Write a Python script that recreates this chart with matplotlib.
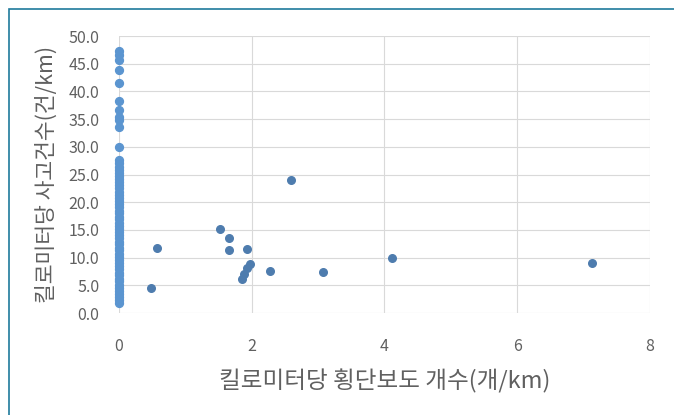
import matplotlib
matplotlib.use("Agg")
import matplotlib.pyplot as plt
from matplotlib.patches import Rectangle

plt.rcParams['font.family'] = ['Noto Sans CJK KR', 'DejaVu Sans']

# points at zero crosswalks per km
zero_y = [47.3, 46.6, 45.7, 43.9, 41.5, 38.2, 36.6, 35.4, 34.8, 33.6, 30.0,
          27.6, 27.0, 26.4, 25.9, 25.3, 24.8, 24.2, 23.6, 23.1, 22.5, 21.9,
          21.3, 20.8, 20.2, 19.7, 19.1, 18.5, 18.0, 17.4, 16.9, 16.3, 15.7,
          15.2, 14.6, 14.1, 13.5, 12.9, 12.4, 11.8, 11.3, 10.7, 10.1, 9.6,
          9.0, 8.5, 7.9, 7.3, 6.8, 6.2, 5.7, 5.1, 4.5, 4.0, 3.4, 2.9, 2.3, 1.8]

other_x = [0.48, 0.57, 1.52, 1.66, 1.66, 1.93, 1.97, 1.93, 1.88, 1.85,
           2.27, 2.59, 3.07, 4.11, 7.12]
other_y = [4.6, 11.7, 15.2, 13.5, 11.3, 11.6, 8.8, 8.1, 7.1, 6.1,
           7.5, 24.0, 7.4, 10.0, 9.1]

xticks = [0, 2, 4, 6, 8]
yticks = [0, 5, 10, 15, 20, 25, 30, 35, 40, 45, 50]

fig = plt.figure(figsize=(6.74, 4.15), dpi=100)
fig.patches.append(Rectangle((9 / 674, -0.1), 1.2, 1 - 9 / 415 + 0.1,
                             transform=fig.transFigure, fill=False,
                             edgecolor='#1F7A9C', linewidth=1.2))

ax = fig.add_axes([119 / 674, 1 - 313 / 415, 531 / 674, 277 / 415])
ax.scatter([0] * len(zero_y), zero_y, s=32, color='#5B95D0', zorder=3, clip_on=False)
ax.scatter(other_x, other_y, s=30, color='#4E7CAE', zorder=3, clip_on=False)

ax.set_xlim(0, 8)
ax.set_ylim(0, 50)
ax.set_xticks(xticks)
ax.set_yticks(yticks)
ax.set_yticklabels([f"{v:.1f}" for v in yticks])
ax.grid(True, color='#D9D9D9', linewidth=0.8)
ax.set_axisbelow(True)
for s in ax.spines.values():
    s.set_visible(False)
ax.tick_params(length=0, labelsize=11.5, colors='#606060')
ax.tick_params(axis='y', pad=14)
ax.tick_params(axis='x', pad=18)

ax.set_xlabel("킬로미터당 횡단보도 개수(개/km)", fontsize=17, color='#606060', labelpad=10)
ax.set_ylabel("킬로미터당 사고건수(건/km)", fontsize=15.5, color='#606060', labelpad=8)

fig.savefig("out.png", dpi=100)
